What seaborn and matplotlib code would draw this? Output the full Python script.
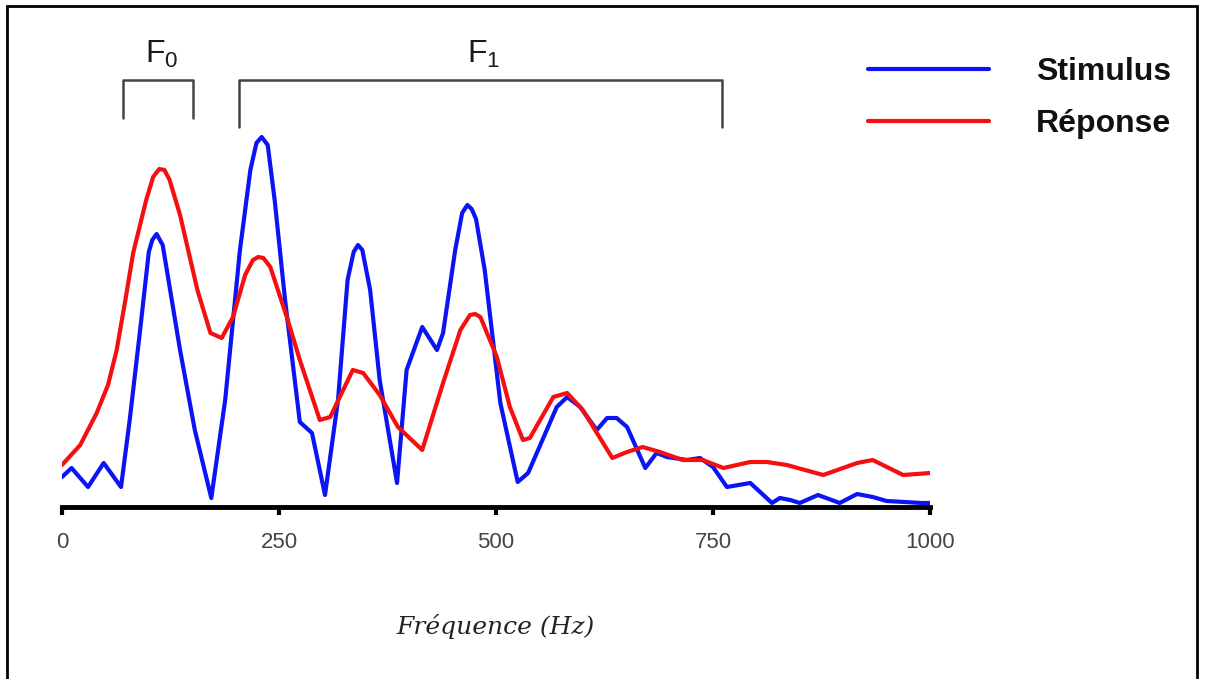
import pandas as pd
import matplotlib.pyplot as plt
import seaborn as sns
from matplotlib.patches import Rectangle

# Spectre du stimulus (Hz, amplitude arbitraire)
freq_stim = [0, 11, 30, 48, 68, 78, 90, 100, 104, 109, 116, 136, 153, 172, 188, 205, 217,
             224, 230, 237, 245, 257, 274, 288, 303, 318, 329, 336, 341, 346, 355, 366, 386,
             397, 415, 432, 439, 453, 461, 467, 472, 477, 487, 505, 525, 537, 570, 582, 597,
             616, 628, 639, 651, 672, 685, 697, 720, 735, 750, 766, 793, 818, 827, 839,
             850, 871, 896, 916, 934, 950, 991, 1000]
amp_stim = [30, 39, 20, 44, 20, 87, 177, 255, 267, 273, 262, 157, 77, 9, 107, 257, 337,
            364, 370, 362, 307, 207, 85, 74, 12, 107, 227, 255, 262, 257, 217, 127, 24,
            137, 180, 157, 174, 257, 294, 302, 298, 288, 237, 104, 25, 34, 100, 110, 100,
            77, 89, 89, 80, 39, 54, 50, 47, 49, 40, 20, 24, 4, 9, 7,
            4, 12, 4, 13, 10, 6, 4, 4]

# Réponse
freq_resp = [0, 21, 40, 53, 63, 73, 82, 97, 105, 112, 118, 124, 136, 156, 171, 184, 197,
             211, 220, 226, 232, 240, 259, 274, 297, 309, 335, 347, 366, 387, 415, 439, 459,
             470, 476, 482, 501, 516, 531, 539, 566, 582, 600, 634, 651, 669, 689, 715, 738,
             762, 793, 812, 835, 877, 916, 934, 969, 1000]
amp_resp = [42, 62, 94, 122, 157, 207, 254, 307, 330, 338, 337, 327, 292, 217, 174, 169, 190,
            232, 247, 250, 249, 240, 190, 147, 87, 90, 137, 134, 112, 80, 57, 124, 177,
            192, 193, 190, 150, 100, 67, 69, 110, 114, 97, 49, 55, 60, 55, 47, 47,
            39, 45, 45, 42, 32, 44, 47, 32, 34]

xticks = [0, 250, 500, 750, 1000]
bands = {'F$_0$': (70, 151), 'F$_1$': (204, 760)}

df = pd.concat([
    pd.DataFrame({'freq': freq_stim, 'amp': amp_stim, 'signal': 'Stimulus'}),
    pd.DataFrame({'freq': freq_resp, 'amp': amp_resp, 'signal': 'Réponse'}),
])

sns.set_style('white')
plt.rcParams['font.family'] = ['Liberation Sans', 'DejaVu Sans']
plt.rcParams['mathtext.default'] = 'regular'

fig = plt.figure(figsize=(12.06, 6.79), dpi=100)
ax = fig.add_axes([62 / 1206, 1 - 507 / 679, 868 / 1206, 447 / 679])

sns.lineplot(data=df, x='freq', y='amp', hue='signal', sort=False,
             palette={'Stimulus': '#0a14f5', 'Réponse': '#f50f0f'},
             linewidth=3, ax=ax)

ax.set_xlim(0, 1000)
ax.set_ylim(0, 447)
ax.set_yticks([])
ax.set_ylabel('')
ax.set_xticks(xticks)
ax.set_xticklabels([str(t) for t in xticks])
ax.tick_params(axis='x', direction='out', length=6, width=3, color='black',
               labelsize=16, labelcolor='#444444', pad=12, bottom=True)
for s in ['top', 'right', 'left']:
    ax.spines[s].set_visible(False)
ax.spines['bottom'].set_linewidth(3.5)
ax.spines['bottom'].set_color('black')

ax.set_xlabel('Fréquence (Hz)', family='DejaVu Serif', style='italic',
              fontsize=18, color='#222222', labelpad=44)

# accolades F0 / F1
for lab, (a, b) in bands.items():
    low = 389 if b < 200 else 380
    ax.plot([a, a, b, b], [low, 427, 427, low], color='#444444', lw=1.8,
            clip_on=False)
    ax.text((a + b) / 2 + 4, 444, lab, ha='center', va='baseline', fontsize=23,
            color='#1a1a1a')

handles, labels = ax.get_legend_handles_labels()
leg = ax.legend(handles, labels, loc='upper left', frameon=False,
                bbox_to_anchor=(868 / 1206, 1 - 57 / 679), bbox_transform=fig.transFigure,
                borderpad=0, borderaxespad=0, handlelength=3.8, handletextpad=1.45,
                labelspacing=0.7, prop={'weight': 'bold', 'size': 23})
for t in leg.get_texts():
    t.set_color('#111111')

# cadre
fig.patches.append(Rectangle((7 / 1206, -0.05), 1190 / 1206, 1.05 - 6 / 679,
                             transform=fig.transFigure, fill=False,
                             edgecolor='black', lw=2))

fig.savefig('out.png', dpi=100)
